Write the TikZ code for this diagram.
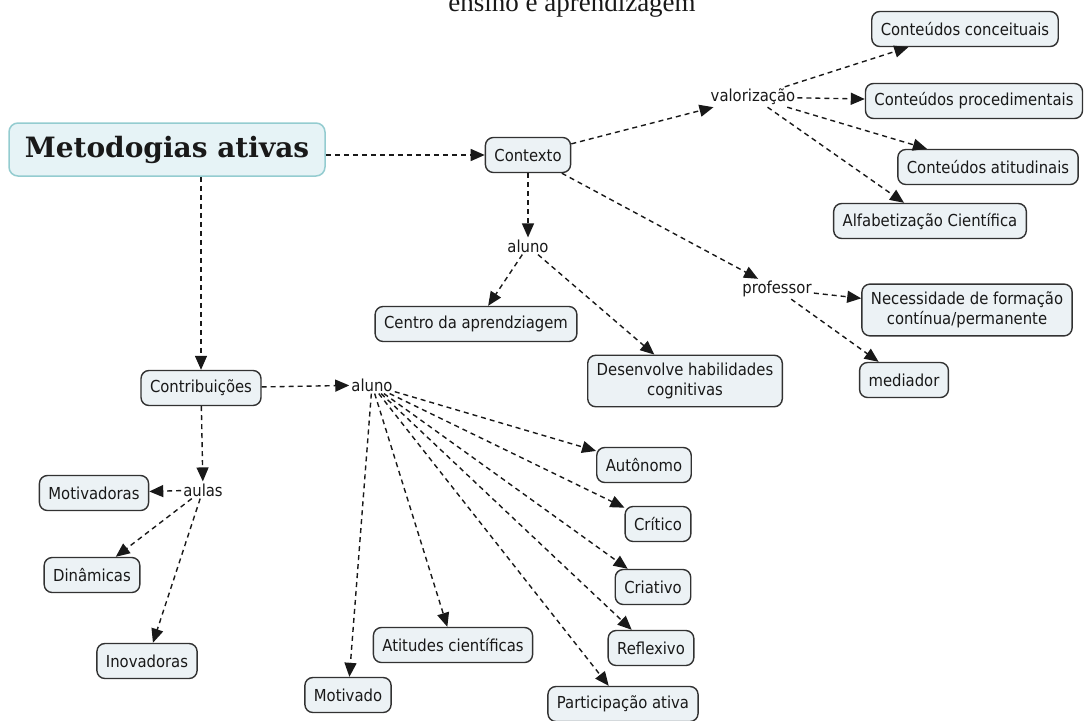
\documentclass[tikz,border=0pt]{standalone}
\usepackage{fontspec}
\setmainfont{DejaVu Sans Condensed}
\newfontfamily\titlefont{Liberation Serif}
\newfontfamily\metofont{DejaVu Serif}
\usepackage{tikz}
\usetikzlibrary{arrows.meta}
\definecolor{boxfill}{RGB}{236,242,245}
\definecolor{boxline}{RGB}{50,50,50}
\definecolor{mainfill}{RGB}{230,243,246}
\definecolor{mainline}{RGB}{148,204,208}
\definecolor{inkcol}{RGB}{25,25,25}

\begin{document}
\begin{tikzpicture}[x=1pt,y=-1pt,
  concept/.style={draw=boxline, fill=boxfill, line width=1.4pt, rounded corners=8pt,
    inner xsep=9pt, inner ysep=8pt, minimum height=35pt, align=center,
    text=inkcol, font=\fontsize{16.5}{19.5}\selectfont},
  mainbox/.style={draw=mainline, fill=mainfill, line width=1.5pt, rounded corners=9pt,
    minimum width=316pt, minimum height=53pt, text=inkcol,
    font=\metofont\bfseries\fontsize{28}{32}\selectfont},
  linkph/.style={inner sep=2pt, text=inkcol, font=\fontsize{16.5}{19.5}\selectfont},
  link/.style={draw=inkcol, line width=1.4pt, dash pattern=on 5pt off 4pt,
    -{Triangle[length=14pt,width=12pt]}}]
% frame
\useasboundingbox (0,0) rectangle (1084,720);
\node[anchor=base, text=inkcol, font=\titlefont\fontsize{27}{32}\selectfont] (titulo) at (572,11) {ensino e aprendizagem};
% concepts
\node[mainbox] (meto) at (167,149.5) {Metodogias ativas};
\node[concept] (contexto) at (528,155) {Contexto};
\node[linkph] (valoriz) at (753,97) {valorização};
\node[concept] (conceit) at (965,29) {Conteúdos conceituais};
\node[concept] (proced) at (974,101) {Conteúdos procedimentais};
\node[concept] (atitud) at (988,167) {Conteúdos atitudinais};
\node[concept] (alfab) at (930,221) {Alfabetização Científica};
\node[linkph] (alunoA) at (528,246) {aluno};
\node[concept] (centro) at (476,324) {Centro da aprendziagem};
\node[concept] (desenv) at (685,381) {Desenvolve habilidades\\cognitivas};
\node[linkph] (profe) at (777,289) {professor};
\node[concept] (necess) at (967,310) {Necessidade de formação\\contínua/permanente};
\node[concept] (mediad) at (904,380) {mediador};
\node[concept] (contrib) at (201,388) {Contribuições};
\node[linkph] (alunoB) at (372,385) {aluno};
\node[linkph] (aulas) at (203,490) {aulas};
\node[concept] (motivs) at (94,493) {Motivadoras};
\node[concept] (dinam) at (92,575) {Dinâmicas};
\node[concept] (inov) at (147,661) {Inovadoras};
\node[concept] (auton) at (644,465) {Autônomo};
\node[concept] (critic) at (658,524) {Crítico};
\node[concept] (criat) at (653,587) {Criativo};
\node[concept] (reflex) at (651,648) {Reflexivo};
\node[concept] (partic) at (623,704) {Participação ativa};
\node[concept] (atitc) at (453,645) {Atitudes científicas};
\node[concept] (motivd) at (348,695) {Motivado};
% links top
\draw[link] (meto.east |- contexto) -- (contexto);
\draw[link] (meto.south -| contrib) -- (contrib);
\draw[link] (contexto) -- (valoriz);
\draw[link] (valoriz) -- (conceit);
\draw[link] (valoriz) -- (proced);
\draw[link] (valoriz) -- (atitud);
\draw[link] (valoriz) -- (alfab);
\draw[link] (contexto) -- (alunoA);
\draw[link] (contexto) -- (profe);
\draw[link] (alunoA) -- (centro);
\draw[link] (alunoA) -- (desenv);
\draw[link] (profe) -- (necess);
\draw[link] (profe) -- (mediad);
% links bottom
\draw[link] (contrib) -- (alunoB);
\draw[link] (contrib) -- (aulas);
\draw[link] (aulas) -- (motivs);
\draw[link] (aulas) -- (dinam);
\draw[link] (aulas) -- (inov);
\foreach \dest in {auton,critic,criat,reflex,partic,atitc,motivd}
  \draw[link] (alunoB) -- (\dest);
\end{tikzpicture}
\end{document}
